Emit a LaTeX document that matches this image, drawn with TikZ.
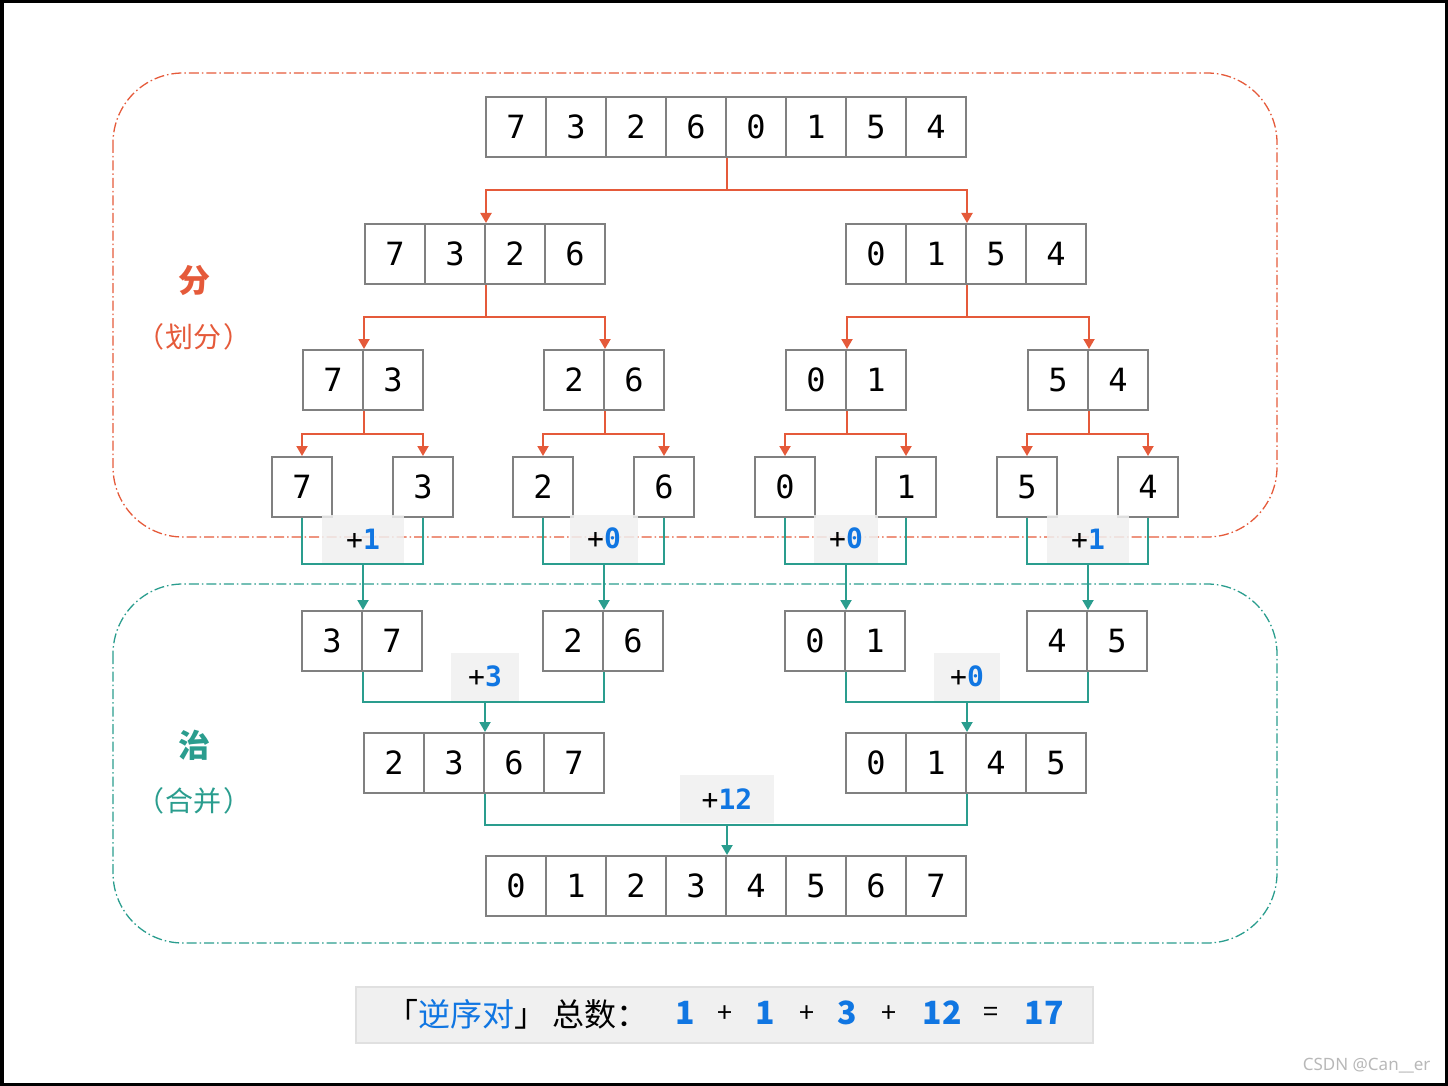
\documentclass[tikz,border=0pt]{standalone}
\usepackage{fontspec}
\setmonofont{DejaVu Sans Mono}
\newfontfamily\cjk{Noto Sans CJK SC}
\newfontfamily\wmfont{Noto Sans}
\usepackage{tikz}
\usetikzlibrary{arrows.meta, calc}
\definecolor{InvRed}{RGB}{229, 90, 58}
\definecolor{InvTeal}{RGB}{42, 157, 142}
\definecolor{InvBlue}{RGB}{16, 118, 226}
\definecolor{InvGray}{RGB}{128, 128, 128}
\definecolor{InvFill}{RGB}{240, 240, 240}
\definecolor{InvEdge}{RGB}{224, 224, 224}

\tikzset{
  cell/.style={draw=InvGray, line width=2pt, minimum size=60pt, inner sep=0pt,
    font=\ttfamily\fontsize{32}{32}\selectfont},
  divline/.style={draw=InvRed, line width=2pt},
  divarrow/.style={divline, -{Triangle[length=10pt,width=11pt]}},
  mergeline/.style={draw=InvTeal, line width=2pt},
  mergearrow/.style={mergeline, -{Triangle[length=10pt,width=11pt]}},
  gain/.style={fill=InvFill, fill opacity=0.85, text opacity=1, minimum height=48pt,
    inner sep=0pt, font=\ttfamily\fontsize{28}{28}\selectfont},
  zone/.style={line width=1.3pt, rounded corners=70pt,
    dash pattern=on 10pt off 3pt on 1.5pt off 3pt},
  sidetitle/.style={font=\cjk\bfseries\fontsize{32}{32}\selectfont},
  sidenote/.style={font=\cjk\fontsize{28}{28}\selectfont},
}

\newcommand{\cellrow}[4]{%
  \foreach \v [count=\i] in {#4}
    \node[cell] (#1-\i) at ({#2+60*\i-30},{#3+30}) {\v};
}

\begin{document}
\begin{tikzpicture}[x=1pt, y=-1pt]
  \useasboundingbox (0,0) rectangle (1448,1086);
  \draw[line width=3.5pt] (1.75,1.75) rectangle (1446.25,1084.25);

  \draw[zone, InvRed] (113,73) rectangle (1277,537);
  \draw[zone, InvTeal] (113,584) rectangle (1277,943);

  \node[sidetitle, text=InvRed] (divtitle) at (194,280) {分};
  \node[sidenote, text=InvRed] (divnote) at (194,337) {（\hspace{2pt}划分\hspace{2pt}）};
  \node[sidetitle, text=InvTeal] (mrgtitle) at (194,745) {治};
  \node[sidenote, text=InvTeal] (mrgnote) at (194,801) {（\hspace{2pt}合并\hspace{2pt}）};

  \cellrow{A}{486}{97}{7,3,2,6,0,1,5,4}
  \cellrow{B1}{365}{224}{7,3,2,6}
  \cellrow{B2}{846}{224}{0,1,5,4}
  \cellrow{C1}{303}{350}{7,3}
  \cellrow{C2}{544}{350}{2,6}
  \cellrow{C3}{786}{350}{0,1}
  \cellrow{C4}{1028}{350}{5,4}
  \cellrow{D1}{272}{457}{7}
  \cellrow{D2}{393}{457}{3}
  \cellrow{D3}{513}{457}{2}
  \cellrow{D4}{634}{457}{6}
  \cellrow{D5}{755}{457}{0}
  \cellrow{D6}{876}{457}{1}
  \cellrow{D7}{997}{457}{5}
  \cellrow{D8}{1118}{457}{4}
  \cellrow{E1}{302}{611}{3,7}
  \cellrow{E2}{543}{611}{2,6}
  \cellrow{E3}{785}{611}{0,1}
  \cellrow{E4}{1027}{611}{4,5}
  \cellrow{F1}{364}{733}{2,3,6,7}
  \cellrow{F2}{846}{733}{0,1,4,5}
  \cellrow{G}{486}{856}{0,1,2,3,4,5,6,7}

  \foreach \p/\l/\r in {A-4.south east/B1-2.north east/B2-2.north east,
      B1-2.south east/C1-1.north east/C2-1.north east,
      B2-2.south east/C3-1.north east/C4-1.north east,
      C1-1.south east/D1-1.north/D2-1.north, C2-1.south east/D3-1.north/D4-1.north,
      C3-1.south east/D5-1.north/D6-1.north, C4-1.south east/D7-1.north/D8-1.north} {
    \coordinate (fork) at ($(\p)!.5!(\l)$);
    \draw[divline] (\p) -- (\p |- fork);
    \draw[divarrow] (\p |- fork) -| (\l);
    \draw[divarrow] (\p |- fork) -| (\r);
  }

  \foreach \l/\r/\c/\w/\g [count=\k] in {D1-1.south/D2-1.south/E1-1.north east/82/1,
      D3-1.south/D4-1.south/E2-1.north east/68/0, D5-1.south/D6-1.south/E3-1.north east/64/0,
      D7-1.south/D8-1.south/E4-1.north east/82/1,
      E1-1.south east/E2-1.south east/F1-2.north east/68/3,
      E3-1.south east/E4-1.south east/F2-2.north east/66/0,
      F1-2.south east/F2-2.south east/G-4.north east/94/12} {
    \coordinate (fork) at ($(\l)!.5!(\c)$);
    \draw[mergeline] (\l) |- (\c |- fork) -| (\r);
    \draw[mergearrow] (\c |- fork) -- (\c);
    \node[gain, minimum width=\w pt, anchor=south, yshift=1pt] (gain-\k) at (\c |- fork)
      {+\textcolor{InvBlue}{\bfseries\g}};
  }

  \node[fill=InvFill, draw=InvEdge, line width=2pt, minimum width=737pt,
    minimum height=56pt] (sum) at (724.5,1015) {};
  \node[anchor=west, inner sep=0pt, font=\cjk\fontsize{32}{32}\selectfont] (sumlabel)
    at (386,1014) {「\textcolor{InvBlue}{逆序对}」};
  \node[anchor=west, inner sep=0pt, font=\cjk\fontsize{32}{32}\selectfont] (sumword)
    at (552,1014) {总数：};
  \foreach \x/\t [count=\k] in {685/1, 765/1, 847/3, 942/12, 1044/17}
    \node[font=\cjk\bfseries\fontsize{32}{32}\selectfont, text=InvBlue] (term-\k)
      at (\x,1013) {\t};
  \foreach \x/\t [count=\k] in {725/+, 807/+, 889/+, 991/=}
    \node[font=\cjk\fontsize{27}{27}\selectfont] (op-\k) at (\x,1014) {\t};

  \node[anchor=east, font=\wmfont\fontsize{17}{17}\selectfont, text=black!28] (mark)
    at (1434,1066) {CSDN @Can\_\_er};
\end{tikzpicture}
\end{document}
